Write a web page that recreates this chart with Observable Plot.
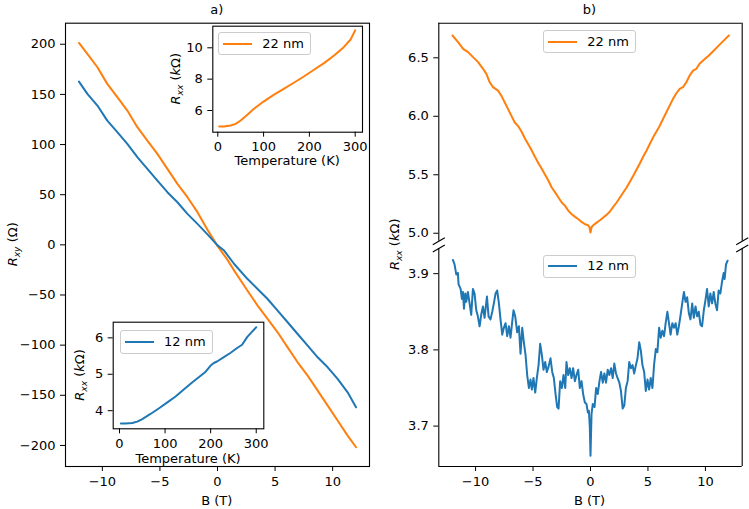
<!DOCTYPE html>
<html>
<head>
<meta charset="utf-8">
<script src="https://cdn.jsdelivr.net/npm/d3@7"></script>
<script src="https://cdn.jsdelivr.net/npm/@observablehq/plot@0.6"></script>
<style>
  body { margin: 0; background: #fff; }
  #fig { position: relative; width: 749px; height: 509px; overflow: hidden;
         font-family: "DejaVu Sans", sans-serif; font-size: 13px; color: #000; }
  #fig svg { position: absolute; overflow: visible; max-width: none; }
  .legend { position: absolute; box-sizing: border-box; border: 1px solid #ccc;
            border-radius: 3px; background: rgba(255,255,255,0.8); }
  .legend .swatch { position: absolute; left: 4px; width: 29px; height: 2px; top: 50%; margin-top: -1px; }
  .legend .name { position: absolute; left: 43px; top: 50%; transform: translateY(-52%);
                  line-height: 1; white-space: nowrap; }
</style>
</head>
<body>
<div id="fig"></div>
<script>
// ---- series names and colours ----
const seriesNames = ["22 nm", "12 nm"];
const seriesColors = ["#ff7f0e", "#1f77b4"];

// ---- a) Hall resistance R_xy (Ω) vs field B (T) ----
const hallB22 = [-12.03, -11.3, -10.43, -9.57, -8.7, -7.83, -6.96, -6.09, -5.22, -4.35, -3.48, -2.61, -1.74, -0.87, 0,
                 0.29, 0.87, 1.45, 2.61, 3.48, 4.35, 5.22, 6.09, 6.96, 7.83, 8.7, 9.57, 10.43, 11.3, 12.03];
const hallR22 = [201.3, 190.4, 177.1, 160.5, 147.2, 133.9, 117.3, 104.0, 90.7, 75.7, 60.8, 47.5, 32.6, 15, -1,
                 -5.7, -15, -25.7, -45.7, -60.6, -73.9, -87.2, -102.2, -117.1, -130.4, -145.3, -160.3, -175.2, -190.2, -201.8];
const hallB12 = [-12.03, -11.3, -10.43, -9.57, -8.7, -7.83, -6.96, -6.09, -5.22, -4.35, -3.48, -2.61, -1.74, -0.87, 0,
                 0.57, 1.45, 2.61, 3.48, 4.35, 5.22, 6.09, 6.96, 7.83, 8.7, 9.57, 10.43, 11.3, 12.03];
const hallR12 = [162.8, 150.5, 138.9, 123.9, 112.3, 100.7, 87.4, 75.7, 64.1, 52.5, 42.5, 30.9, 20.9, 10.5, -0.5,
                 -5.7, -19.1, -34.1, -44.0, -54.0, -65.6, -77.2, -88.9, -100.5, -112.1, -122.1, -133.7, -147.0, -162.0];

// ---- insets: R_xx (kΩ) vs temperature (K) ----
const temp22 = [3, 13, 28, 39, 50, 64, 79, 100, 122, 144, 166, 188, 210, 232, 254, 275, 290, 300];
const rxxT22 = [4.98, 4.98, 5.04, 5.15, 5.36, 5.72, 6.11, 6.57, 7.0, 7.38, 7.77, 8.17, 8.60, 9.02, 9.51, 10.04, 10.53, 11.11];
const temp12 = [3, 13, 28, 39, 50, 68, 86, 105, 123, 141, 160, 178, 189, 200, 207, 214, 229, 244, 258, 269, 280, 291, 300];
const rxxT12 = [3.65, 3.65, 3.66, 3.70, 3.77, 3.91, 4.06, 4.23, 4.39, 4.58, 4.78, 4.96, 5.07, 5.24, 5.31, 5.35, 5.47, 5.59, 5.72, 5.81, 6.02, 6.17, 6.29];

// ---- b) magnetoresistance R_xx (kΩ) vs field B (T) ----
const mrB22 = [-12.01, -11.52, -11.08, -10.65, -10.22, -9.78, -9.35, -9.06, -8.77, -8.48, -8.05, -7.76, -7.47, -7.18, -6.89, -6.60, -6.26, -5.97, -5.68, -5.39,
               -5.10, -4.81, -4.52, -4.23, -3.95, -3.66, -3.37, -3.08, -2.79, -2.50, -2.21, -1.92, -1.63, -1.34, -1.05, -0.77, -0.48, -0.25, -0.10, 0,
               0.10, 0.27, 0.53, 0.82, 1.11, 1.40, 1.69, 1.98, 2.27, 2.56, 2.85, 3.14, 3.43, 3.72, 4.00, 4.29, 4.58, 4.87, 5.16, 5.45,
               5.74, 6.03, 6.31, 6.60, 6.89, 7.18, 7.47, 7.76, 8.05, 8.34, 8.63, 8.92, 9.21, 9.49, 9.87, 10.30, 10.74, 11.17, 11.61, 12.04];
const mrR22 = [6.691, 6.634, 6.577, 6.549, 6.506, 6.463, 6.406, 6.363, 6.291, 6.249, 6.220, 6.177, 6.120, 6.063, 6.006, 5.949, 5.911, 5.863, 5.806, 5.757,
               5.706, 5.649, 5.597, 5.549, 5.500, 5.449, 5.391, 5.349, 5.306, 5.263, 5.234, 5.191, 5.163, 5.140, 5.120, 5.097, 5.077, 5.071, 5.054, 5.006,
               5.054, 5.071, 5.091, 5.111, 5.134, 5.157, 5.186, 5.226, 5.263, 5.306, 5.349, 5.391, 5.440, 5.491, 5.543, 5.597, 5.654, 5.706, 5.763, 5.820,
               5.869, 5.920, 5.977, 6.034, 6.091, 6.149, 6.197, 6.234, 6.249, 6.291, 6.349, 6.391, 6.406, 6.449, 6.483, 6.520, 6.563, 6.606, 6.649, 6.691];
const mrB12 = [-11.97, -11.83, -11.68, -11.54, -11.48, -11.30, -11.19, -11.10, -11.01, -10.90, -10.81, -10.67, -10.52, -10.38, -10.23, -10.09, -9.94, -9.80, -9.65, -9.51,
               -9.36, -9.22, -9.01, -8.87, -8.70, -8.55, -8.41, -8.26, -8.12, -7.97, -7.83, -7.68, -7.54, -7.39, -7.25, -7.10, -6.96, -6.81, -6.70, -6.55,
               -6.38, -6.23, -6.09, -5.94, -5.80, -5.65, -5.51, -5.36, -5.22, -5.10, -4.96, -4.81, -4.67, -4.52, -4.38, -4.23, -4.09, -3.94, -3.80, -3.65,
               -3.48, -3.33, -3.19, -3.04, -2.90, -2.78, -2.64, -2.49, -2.35, -2.20, -2.09, -1.94, -1.80, -1.65, -1.51, -1.36, -1.22, -1.07, -0.93, -0.78,
               -0.64, -0.49, -0.35, -0.23, -0.14, -0.06, 0,
               0.09, 0.20, 0.35, 0.49, 0.63, 0.78, 0.92, 1.07, 1.21, 1.35, 1.50, 1.64, 1.79, 1.93, 2.07, 2.22, 2.36, 2.51, 2.65,
               2.80, 2.94, 3.08, 3.23, 3.37, 3.52, 3.66, 3.80, 3.95, 4.09, 4.24, 4.38, 4.52, 4.67, 4.81, 4.96, 5.10, 5.24, 5.39, 5.53,
               5.68, 5.82, 5.97, 6.11, 6.25, 6.40, 6.54, 6.69, 6.83, 6.97, 7.12, 7.26, 7.41, 7.55, 7.69, 7.84, 7.98, 8.13, 8.27, 8.41,
               8.56, 8.70, 8.85, 8.99, 9.14, 9.28, 9.42, 9.57, 9.71, 9.86, 10.0, 10.14, 10.29, 10.43, 10.58, 10.72, 10.86, 11.01, 11.15, 11.30,
               11.44, 11.59, 11.67, 11.79, 11.93];
const mrR12 = [3.918, 3.912, 3.899, 3.901, 3.886, 3.880, 3.867, 3.876, 3.854, 3.874, 3.863, 3.876, 3.861, 3.846, 3.880, 3.874, 3.852, 3.844, 3.831, 3.846,
               3.857, 3.842, 3.870, 3.844, 3.840, 3.850, 3.861, 3.874, 3.878, 3.861, 3.840, 3.820, 3.829, 3.835, 3.818, 3.831, 3.816, 3.837, 3.852, 3.844,
               3.823, 3.831, 3.795, 3.829, 3.810, 3.793, 3.767, 3.750, 3.761, 3.748, 3.763, 3.744, 3.763, 3.780, 3.808, 3.793, 3.774, 3.784, 3.771, 3.778,
               3.789, 3.771, 3.763, 3.742, 3.725, 3.723, 3.759, 3.750, 3.767, 3.750, 3.784, 3.767, 3.776, 3.763, 3.776, 3.759, 3.767, 3.774, 3.750, 3.759,
               3.742, 3.731, 3.729, 3.718, 3.720, 3.699, 3.661,
               3.716, 3.729, 3.725, 3.750, 3.742, 3.759, 3.771, 3.757, 3.769, 3.757, 3.774, 3.767, 3.776, 3.763, 3.782, 3.769, 3.763, 3.757, 3.746,
               3.723, 3.727, 3.750, 3.759, 3.784, 3.776, 3.780, 3.769, 3.780, 3.789, 3.810, 3.799, 3.780, 3.771, 3.746, 3.761, 3.748, 3.763, 3.750, 3.780,
               3.801, 3.797, 3.829, 3.816, 3.825, 3.818, 3.835, 3.850, 3.835, 3.820, 3.835, 3.829, 3.835, 3.820, 3.831, 3.846, 3.861, 3.876, 3.863, 3.869,
               3.848, 3.840, 3.861, 3.842, 3.857, 3.844, 3.850, 3.833, 3.831, 3.852, 3.865, 3.880, 3.857, 3.874, 3.861, 3.876, 3.861, 3.852, 3.878, 3.874,
               3.889, 3.901, 3.893, 3.912, 3.917];

// ---- tick values ----
const fieldTicks = [-10, -5, 0, 5, 10];
const hallTicks = [-200, -150, -100, -50, 0, 50, 100, 150, 200];
const tempTicks = [0, 100, 200, 300];
const rxxT22Ticks = [6, 8, 10];
const rxxT12Ticks = [4, 5, 6];
const mrTopTicks = [5.0, 5.5, 6.0, 6.5];
const mrBottomTicks = [3.7, 3.8, 3.9];

// ---- helpers ----
const rows = (xs, ys) => xs.map((x, i) => ({x, y: ys[i]}));
const fmtInt = d3.format("d");
const fmt1 = d3.format(".1f");
const fig = document.getElementById("fig");
const plotStyle = {fontFamily: "DejaVu Sans, sans-serif", fontSize: "13px", background: "transparent", overflow: "visible"};
const tick = {tickSize: 5, tickPadding: 5, label: null};
const lineW = 2;

function place(svg, left, top) {
  svg.style.position = "absolute";
  svg.style.left = left + "px";
  svg.style.top = top + "px";
  svg.style.maxWidth = "none";
  fig.appendChild(svg);
  return svg;
}

// ---- a) main panel ----
const fieldDomain = [-13.2, 13.2];
place(Plot.plot({
  width: 375, height: 509,
  marginLeft: 65, marginRight: 6, marginTop: 22.7, marginBottom: 43,
  style: plotStyle,
  x: {domain: fieldDomain},
  y: {domain: [-221, 221]},
  marks: [
    Plot.line(rows(hallB22, hallR22), {x: "x", y: "y", stroke: seriesColors[0], strokeWidth: lineW}),
    Plot.line(rows(hallB12, hallR12), {x: "x", y: "y", stroke: seriesColors[1], strokeWidth: lineW}),
    Plot.frame({stroke: "black", strokeWidth: 1.1}),
    Plot.axisX({...tick, ticks: fieldTicks, tickFormat: fmtInt}),
    Plot.axisY({...tick, ticks: hallTicks, tickFormat: fmtInt})
  ]
}), 0, 0);

// ---- a) inset, 22 nm ----
place(Plot.plot({
  width: 205, height: 150,
  marginLeft: 52.3, marginRight: 3, marginTop: 5.7, marginBottom: 38.3,
  style: plotStyle,
  x: {domain: [-10.9, 316]},
  y: {domain: [4.616, 11.378]},
  marks: [
    Plot.frame({fill: "white"}),
    Plot.line(rows(temp22, rxxT22), {x: "x", y: "y", stroke: seriesColors[0], strokeWidth: lineW}),
    Plot.frame({stroke: "black", strokeWidth: 1.1}),
    Plot.axisX({...tick, ticks: tempTicks, tickFormat: fmtInt}),
    Plot.axisY({...tick, ticks: rxxT22Ticks, tickFormat: fmtInt})
  ]
}), 160, 20);

// ---- a) inset, 12 nm ----
place(Plot.plot({
  width: 210, height: 130,
  marginLeft: 52.7, marginRight: 6.7, marginTop: 11.7, marginBottom: 11.7,
  style: plotStyle,
  x: {domain: [-13.8, 316.6]},
  y: {domain: [3.503, 6.429]},
  marks: [
    Plot.frame({fill: "white"}),
    Plot.line(rows(temp12, rxxT12), {x: "x", y: "y", stroke: seriesColors[1], strokeWidth: lineW}),
    Plot.frame({stroke: "black", strokeWidth: 1.1}),
    Plot.axisX({...tick, ticks: tempTicks, tickFormat: fmtInt}),
    Plot.axisY({...tick, ticks: rxxT12Ticks, tickFormat: fmtInt})
  ]
}), 60, 310);

// ---- b) broken y axis: upper (22 nm) and lower (12 nm) parts ----
const slash = {draw(ctx) { ctx.moveTo(-6, 3.5); ctx.lineTo(6, -3.5); }};
const topDomain = [4.932, 6.796];
const bottomDomain = [3.647, 3.933];
const corners = (ydom) => [{x: fieldDomain[0], y: ydom}, {x: fieldDomain[1], y: ydom}];

place(Plot.plot({
  width: 369, height: 245,
  marginLeft: 58.3, marginRight: 7.3, marginTop: 22.7, marginBottom: 4.3,
  style: plotStyle,
  x: {domain: fieldDomain, axis: null},
  y: {domain: topDomain},
  marks: [
    Plot.line(rows(mrB22, mrR22), {x: "x", y: "y", stroke: seriesColors[0], strokeWidth: lineW}),
    Plot.ruleX(fieldDomain, {stroke: "black", strokeWidth: 1.1}),
    Plot.ruleY([topDomain[1]], {stroke: "black", strokeWidth: 1.1}),
    Plot.dot(corners(topDomain[0]), {x: "x", y: "y", symbol: slash, stroke: "black", fill: "none", strokeWidth: 1.1}),
    Plot.axisY({...tick, ticks: mrTopTicks, tickFormat: fmt1})
  ]
}), 380, 0);

place(Plot.plot({
  width: 369, height: 264,
  marginLeft: 58.3, marginRight: 7.3, marginTop: 3, marginBottom: 43,
  style: plotStyle,
  x: {domain: fieldDomain},
  y: {domain: bottomDomain},
  marks: [
    Plot.line(rows(mrB12, mrR12), {x: "x", y: "y", stroke: seriesColors[1], strokeWidth: lineW}),
    Plot.ruleX(fieldDomain, {stroke: "black", strokeWidth: 1.1}),
    Plot.ruleY([bottomDomain[0]], {stroke: "black", strokeWidth: 1.1}),
    Plot.dot(corners(bottomDomain[1]), {x: "x", y: "y", symbol: slash, stroke: "black", fill: "none", strokeWidth: 1.1}),
    Plot.axisX({...tick, ticks: fieldTicks, tickFormat: fmtInt}),
    Plot.axisY({...tick, ticks: mrBottomTicks, tickFormat: fmt1})
  ]
}), 380, 245);

// ---- titles and axis labels ----
const ov = d3.select(fig).append("svg")
  .attr("width", 749).attr("height", 509)
  .style("left", "0px").style("top", "0px")
  .style("font-family", "DejaVu Sans, sans-serif").style("font-size", "13px")
  .style("pointer-events", "none");

function label(x, y, parts, rotate = false) {
  const t = ov.append("text")
    .attr("transform", `translate(${x},${y})` + (rotate ? " rotate(-90)" : ""))
    .attr("text-anchor", "middle").attr("fill", "black");
  let shift = 0;
  for (const p of parts) {
    const [s, o = {}] = typeof p === "string" ? [p] : p;
    const target = o.sub ? 3 : 0;
    const span = t.append("tspan").text(s).attr("dy", target - shift);
    shift = target;
    if (o.it) span.attr("font-style", "italic");
    if (o.sub) span.attr("font-size", "9.1px");
  }
  return t;
}
const rxx = [["R", {it: true}], ["xx", {it: true, sub: true}], " (", ["k", {it: true}], "Ω)"];
label(216.7, 14.4, ["a)"]);
label(589.5, 14.4, ["b)"]);
label(216.7, 504.5, ["B (T)"]);
label(589.5, 504.5, ["B (T)"]);
label(16.5, 244.3, [["R", {it: true}], ["xy", {it: true, sub: true}], " (Ω)"], true);
label(399, 244.3, rxx, true);
label(180, 78.7, rxx, true);
label(84, 375, rxx, true);
label(287.2, 165, ["Temperature (K)"]);
label(188, 462.5, ["Temperature (K)"]);

// ---- legends ----
function legend(left, top, width, height, i) {
  const box = d3.select(fig).append("div").attr("class", "legend")
    .style("left", left + "px").style("top", top + "px")
    .style("width", width + "px").style("height", height + "px");
  box.append("div").attr("class", "swatch").style("background", seriesColors[i]);
  box.append("span").attr("class", "name").text(seriesNames[i]);
}
legend(218.3, 32, 92.5, 23, 0);
legend(120, 330, 92.5, 23.5, 1);
legend(543.3, 30, 92.7, 23, 0);
legend(543.3, 254.5, 92.5, 23.5, 1);
</script>
</body>
</html>
